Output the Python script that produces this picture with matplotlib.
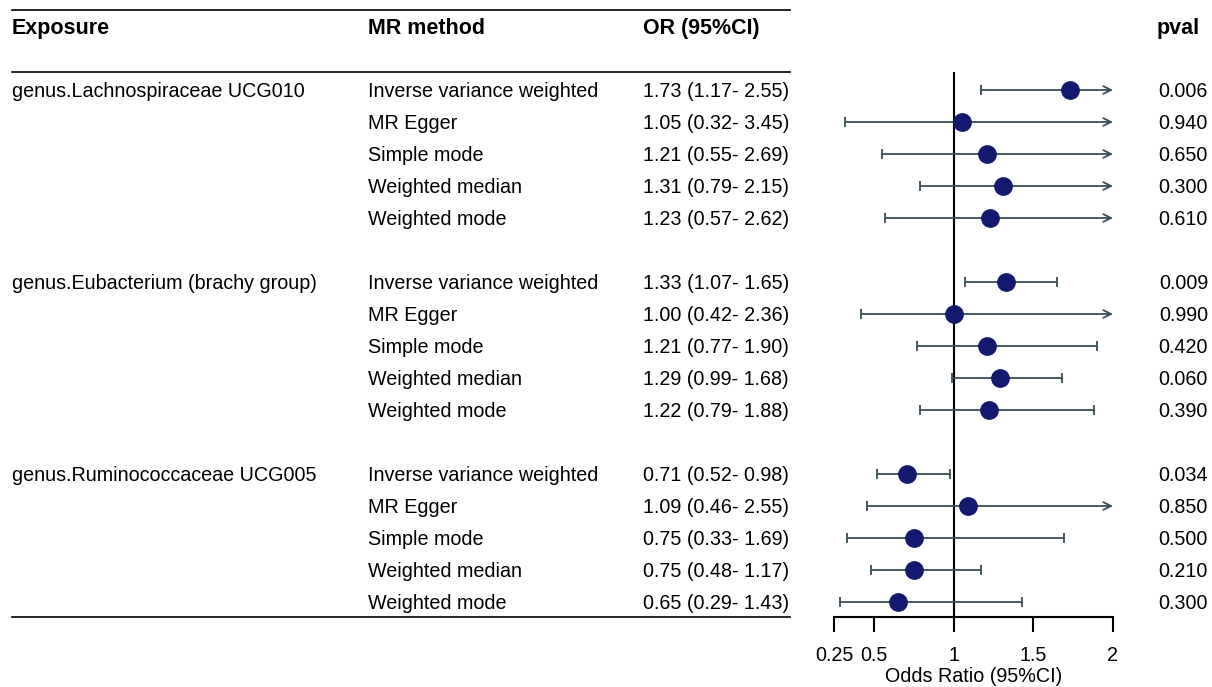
import matplotlib
matplotlib.use("Agg")
import matplotlib.pyplot as plt
import matplotlib.transforms as mtransforms
from matplotlib.lines import Line2D

plt.rcParams['font.family'] = ['Liberation Sans', 'DejaVu Sans']

exposures = ['genus.Lachnospiraceae UCG010', 'genus.Eubacterium (brachy group)',
             'genus.Ruminococcaceae UCG005']
methods = ['Inverse variance weighted', 'MR Egger', 'Simple mode',
           'Weighted median', 'Weighted mode']
or_val = [1.73, 1.05, 1.21, 1.31, 1.23,
          1.33, 1.00, 1.21, 1.29, 1.22,
          0.71, 1.09, 0.75, 0.75, 0.65]
ci_low = [1.17, 0.32, 0.55, 0.79, 0.57,
          1.07, 0.42, 0.77, 0.99, 0.79,
          0.52, 0.46, 0.33, 0.48, 0.29]
ci_high = [2.55, 3.45, 2.69, 2.15, 2.62,
           1.65, 2.36, 1.90, 1.68, 1.88,
           0.98, 2.55, 1.69, 1.17, 1.43]
pvals = [0.006, 0.940, 0.650, 0.300, 0.610,
         0.009, 0.990, 0.420, 0.060, 0.390,
         0.034, 0.850, 0.500, 0.210, 0.300]
xticks = [0.25, 0.5, 1, 1.5, 2]
xticklabels = ['0.25', '0.5', '1', '1.5', '2']

W, H = 1212, 687
fig = plt.figure(figsize=(W / 100, H / 100), dpi=100)

# forest panel: x 0.25..2 spans px 834..1113, rows from px 72 to 617
x0, x1 = 834, 1113
ytop, ybot = 72, 617
ax = fig.add_axes([x0 / W, 1 - ybot / H, (x1 - x0) / W, (ybot - ytop) / H])
xmin, xmax = 0.25, 2
ax.set_xlim(xmin, xmax)
ax.set_ylim((ybot - 90) / 32, (ytop - 90) / 32)

# row positions with a blank row between exposures
rows = [g * 6 + i for g in range(3) for i in range(5)]

line_col = '#3b4d55'
dot_col = '#12196e'
fs = 14.2
hfs = 15.5
dy = 0.04  # small downward nudge so text centres sit on the rows

ax.axvline(1, color='black', lw=1.5, zorder=1)

for r, est, lo, hi in zip(rows, or_val, ci_low, ci_high):
    lo_c = max(lo, xmin)
    if hi > xmax:
        ax.annotate('', xy=(xmax, r), xytext=(lo_c, r),
                    arrowprops=dict(arrowstyle='->', color=line_col, lw=1.3,
                                    shrinkA=0, shrinkB=0, mutation_scale=14))
    else:
        ax.plot([lo_c, hi], [r, r], color=line_col, lw=1.3, zorder=2)
        ax.plot(hi, r, marker='|', ms=7, mew=1.3, color=line_col, zorder=2)
    ax.plot(lo_c, r, marker='|', ms=7, mew=1.3, color=line_col, zorder=2)
    ax.plot(est, r, 'o', ms=12.5, color=dot_col, zorder=3)

for s in ['top', 'right', 'left']:
    ax.spines[s].set_visible(False)
ax.spines['bottom'].set_linewidth(1.5)
ax.set_yticks([])
ax.set_xticks(xticks)
ax.set_xticklabels(xticklabels, fontsize=14.2)
ax.tick_params(axis='x', length=11, width=1.5, pad=10)
ax.set_xlabel('Odds Ratio (95%CI)', fontsize=fs)
ax.xaxis.set_label_coords(0.5, -(667 - ybot) / (ybot - ytop))
ax.patch.set_alpha(0)

# table text: figure x, data y
tr = mtransforms.blended_transform_factory(fig.transFigure, ax.transData)
hdr_y = (27 - 90) / 32
for label, px in [('Exposure', 12), ('MR method', 368), ('OR (95%CI)', 643), ('pval', 1157)]:
    ax.text(px / W, hdr_y + dy, label, transform=tr, fontsize=hfs, fontweight='bold',
            va='center', ha='left', clip_on=False)

for g, name in enumerate(exposures):
    ax.text(12 / W, g * 6 + dy, name, transform=tr, fontsize=fs, va='center',
            ha='left', clip_on=False)

for k, r in enumerate(rows):
    ax.text(368 / W, r + dy, methods[k % 5], transform=tr, fontsize=fs,
            va='center', ha='left', clip_on=False)
    ax.text(643 / W, r + dy, '%.2f (%.2f- %.2f)' % (or_val[k], ci_low[k], ci_high[k]),
            transform=tr, fontsize=fs, va='center', ha='left', clip_on=False)
    ax.text(1208 / W, r + dy, '%.3f' % pvals[k], transform=tr, fontsize=fs,
            va='center', ha='right', clip_on=False)

# table rules
for py in [10, 72, 617]:
    fig.add_artist(Line2D([12 / W, 790 / W], [1 - py / H, 1 - py / H],
                          color='black', lw=1.2))

fig.savefig('out.png', dpi=100)
